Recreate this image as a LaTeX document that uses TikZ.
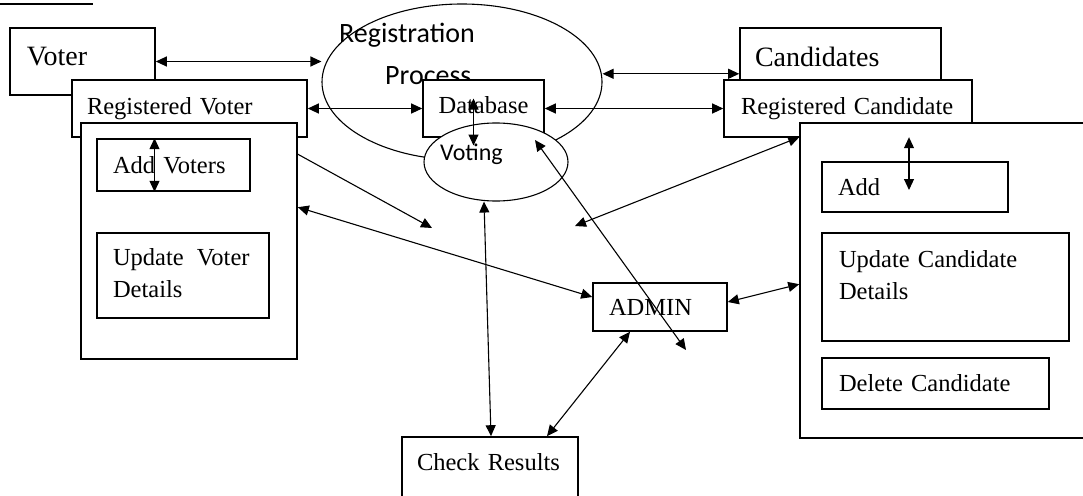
\documentclass[tikz,border=0pt]{standalone}
\usepackage{fontspec}
\setmainfont{Liberation Serif}
\newfontfamily\calfont{Carlito}
\usetikzlibrary{arrows.meta,shapes.geometric}

\tikzset{
  box/.style={draw, rectangle, line width=1.6pt, fill=white, inner ysep=0pt, align=left},
  oval/.style={ellipse, draw, line width=1.1pt, inner sep=0pt},
  link/.style={line width=1.1pt, {Triangle[length=11pt,width=10pt]}-{Triangle[length=11pt,width=10pt]}},
  flow/.style={line width=1.1pt, -{Triangle[length=11pt,width=10pt]}},
  bigtext/.style={font=\fontsize{28}{32}\selectfont},
  midtext/.style={font=\fontsize{24.5}{32}\selectfont},
  sanstext/.style={anchor=base west, inner sep=0pt, font=\calfont\fontsize{#1}{#1}\selectfont},
}

\begin{document}
\begin{tikzpicture}[x=1pt, y=-1pt]
\clip (0,0) rectangle (1083,495);
% cut off caption
\draw[line width=2.2pt] (0,4) -- (93,4);

% voter side
\node[box, bigtext, minimum width=145pt, minimum height=67pt, inner xsep=17pt, text width=111pt, text depth=9.5pt] (voter) at (82.5,61.5) {Voter};
\node[box, midtext, minimum width=235pt, minimum height=57pt, inner xsep=15pt, text width=205pt] (regvoter) at (189.5,108.5) {Registered Voter};
\node[box, minimum width=216pt, minimum height=236pt] (voterpanel) at (189,241) {};
\node[box, midtext, minimum width=153pt, minimum height=52pt, inner xsep=16pt, text width=121pt] (addvoters) at (173.5,165) {Add Voters};
\node[box, midtext, minimum width=172pt, minimum height=85pt, inner xsep=16pt, text width=140pt, text depth=38pt] (updvoter) at (183,275.5) {Update\hspace{5pt} Voter\\Details};

% processes
\node[oval, minimum width=280pt, minimum height=156pt] (regproc) at (462,82) {};
\node[sanstext=28] (regtext) at (339,43) {Registration};
\node[sanstext=28] (proctext) at (385,84) {Process};
\node[box, midtext, minimum width=121pt, minimum height=57pt, inner xsep=0pt, text depth=8pt] (database) at (483.5,108.5) {Database};
\node[oval, fill=white, minimum width=144pt, minimum height=78pt] (voting) at (496,162) {};
\node[sanstext=24] (votetext) at (440,160) {Voting};

% candidate side
\node[box, bigtext, minimum width=201pt, minimum height=52pt, inner xsep=15pt, text width=171pt, text height=26pt] (candidates) at (840.5,54) {Candidates};
\node[box, midtext, minimum width=248pt, minimum height=57pt, inner xsep=17pt, text width=214pt] (regcand) at (848,108.5) {Registered Candidate};
\node[box, minimum width=290pt, minimum height=315pt] (candpanel) at (945,280.5) {};
\node[box, midtext, minimum width=186pt, minimum height=50pt, inner xsep=16pt, text width=154pt] (add) at (915,187) {Add};
\node[box, midtext, minimum width=247pt, minimum height=108pt, inner xsep=17pt, text width=213pt, text depth=57pt] (updcand) at (945.5,287) {Update Candidate\\Details};
\node[box, midtext, minimum width=227pt, minimum height=51pt, inner xsep=17pt, text width=193pt] (delcand) at (935.5,383.5) {Delete Candidate};

% admin and results
\node[box, midtext, minimum width=134pt, minimum height=48pt, inner xsep=16pt, text width=102pt] (admin) at (660,307) {ADMIN};
\node[box, midtext, minimum width=176pt, minimum height=63pt, inner xsep=15pt, text width=146pt, text depth=14pt] (check) at (490,468.5) {Check Results};

% connectors
\coordinate (candin) at ([yshift=7pt]candidates.south west);
\coordinate (vfree) at (432,228);
\coordinate (cfree) at (575,226);
\coordinate (afree) at (686,350);
\draw[link] (voter.east) -- (voter.east -| regproc.west);
\draw[link] (regvoter.east) -- (database.west);
\draw[link] (database.east) -- (regcand.west);
\draw[link] (candin -| regproc.east) -- (candin);
\draw[flow] ([yshift=-32pt]voterpanel.north east) -- (vfree);
\draw[link] ([yshift=-15pt]candpanel.north west) -- (cfree);
\draw[link] ([yshift=-85pt]voterpanel.north east) -- ([yshift=10pt]admin.west);
\draw[link] ([yshift=5pt]admin.east) -- ([yshift=-162pt]candpanel.north west);
\draw[link] ([xshift=-12pt]voting.south) -- ([xshift=1pt]check.north);
\draw[link] ([xshift=-30pt]admin.south) -- ([xshift=57pt]check.north);
\draw[link] ([shift={(39pt,22pt)}]voting.center) -- (afree);
\draw[link] ([shift={(-10pt,10pt)}]database.center) -- ([shift={(-10pt,-37pt)}]database.center);
\draw[link] ([xshift=-19pt]addvoters.north) -- ([xshift=-19pt]addvoters.south);
\draw[link] ([shift={(-6pt,24pt)}]add.north) -- ([shift={(-6pt,-3pt)}]add.center);
\end{tikzpicture}
\end{document}
